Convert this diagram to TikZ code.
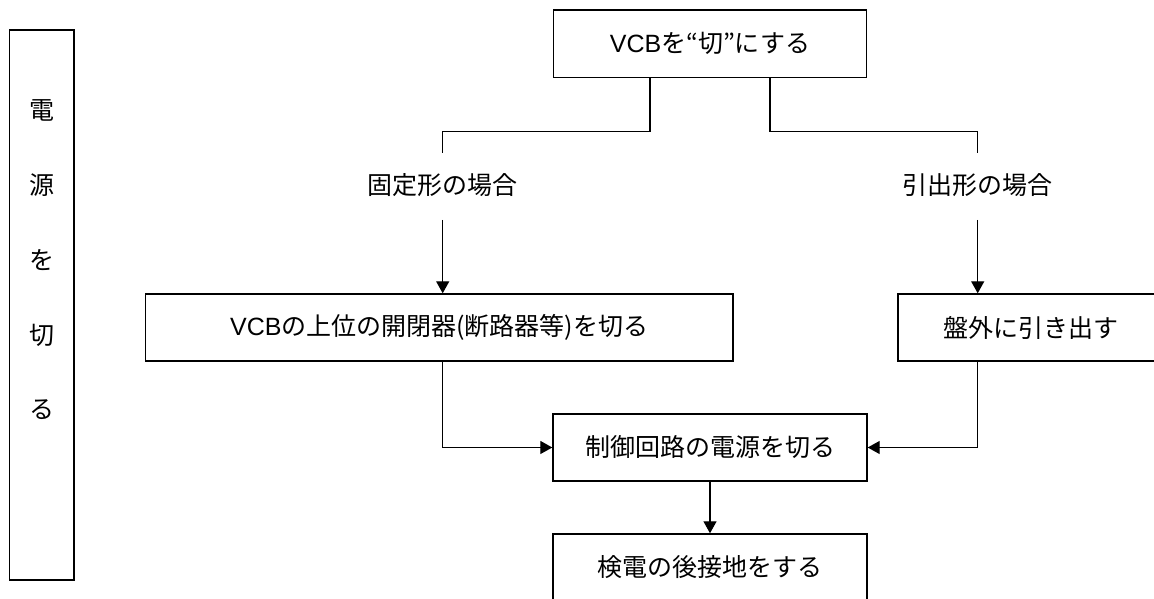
\documentclass[tikz,border=0pt]{standalone}
\usepackage{fontspec}
\setmainfont{Noto Sans CJK JP}
\newfontfamily\lat{Liberation Sans}
\usetikzlibrary{arrows.meta}
\tikzset{
  box/.style={draw=black, line width=1.4pt, fill=white, inner sep=0pt, minimum height=67pt},
  txt/.style={font=\fontsize{25}{30}\selectfont, inner sep=0pt},
  conn/.style={draw=black, line width=1.3pt},
  arr/.style={conn, -{Triangle[length=12pt,width=13pt]}},
}
\begin{document}
\begin{tikzpicture}[x=1pt,y=1pt]
\useasboundingbox (0,0) rectangle (1154,599);
% side box
\node[box, minimum width=64.5pt, minimum height=550pt] (side) at (41.75,294) {};
\node[txt] (c1) at (41.75,489) {電};
\node[txt] (c2) at (41.75,414) {源};
\node[txt] (c3) at (41.75,339) {を};
\node[txt] (c4) at (41.75,264) {切};
\node[txt] (c5) at (41.75,189) {る};
% boxes
\node[box, txt, minimum width=313pt, minimum height=67.5pt] (top) at (710,555.25) {{\lat VCB}を“切”にする};
\node[box, txt, minimum width=587.5pt] (A) at (439.25,271.5) {{\lat VCB}の上位の開閉器(断路器等)を切る};
\node[box, txt, minimum width=266pt] (B) at (1031,271.5) {盤外に引き出す};
\node[box, txt, minimum width=314pt] (M) at (710,151.5) {制御回路の電源を切る};
\node[box, txt, minimum width=314pt] (D) at (710,31.5) {検電の後接地をする};
% labels
\node[txt] (LL) at (442.7,414) {固定形の場合};
\node[txt] (LR) at (977.7,414) {引出形の場合};
% coordinates
\coordinate (tL) at (650,0);
\coordinate (tR) at (770,0);
\coordinate (hL) at (442.7,467.3);
\coordinate (hR) at (977.7,467.3);
\coordinate (bL) at (442.7,446.3);
\coordinate (bR) at (977.7,446.3);
\coordinate (aL) at (442.7,379);
\coordinate (aR) at (977.7,379);
% connectors
\draw[conn] (top.south -| tL) |- (hL) -- (bL);
\draw[conn] (top.south -| tR) |- (hR) -- (bR);
\draw[arr] (aL) -- (A.north -| aL);
\draw[arr] (aR) -- (B.north -| aR);
\draw[arr] (A.south -| aL) |- (M.west);
\draw[arr] (B.south -| aR) |- (M.east);
\draw[arr] (M) -- (D);
\end{tikzpicture}
\end{document}
